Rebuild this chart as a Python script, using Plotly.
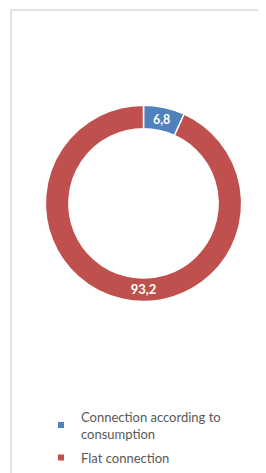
import plotly.graph_objects as go

categories = ["Connection according to consumption", "Flat connection"]
legend_labels = ["Connection according to<br>consumption", "Flat connection"]
values = [6.8, 93.2]
colors = ["#4F81BD", "#C0504D"]

# page has an 8px body margin; figure sized to reach the window's right/bottom edge
OFF = 8
W, H = 266 - OFF, 473 - OFF


def px(x):
    return (x - OFF) / W


def py(y):
    return (H - (y - OFF)) / H


cx, cy, r = 143.5, 209, 101

fig = go.Figure()
fig.add_trace(go.Pie(
    labels=categories,
    values=values,
    marker=dict(colors=colors, line=dict(color="white", width=1.5)),
    hole=0.76,
    sort=False,
    direction="clockwise",
    rotation=0,
    texttemplate="%{value:.1f}",
    textposition="inside",
    insidetextorientation="horizontal",
    textfont=dict(family="Lato", size=13, color="white", weight="bold"),
    showlegend=False,
    hoverinfo="label+value",
    domain=dict(x=[px(cx - r), px(cx + r)],
                y=[py(cy + r), py(cy - r)]),
))

for i, (lab, col) in enumerate(zip(legend_labels, colors)):
    fig.add_trace(go.Scatter(
        x=[None], y=[None], mode="markers", name=lab,
        marker=dict(symbol="square", size=6, color=col),
        legendgroup=f"g{i}", showlegend=True,
    ))

fig.update_layout(
    width=W, height=H,
    margin=dict(l=0, r=0, t=0, b=0),
    paper_bgcolor="white",
    plot_bgcolor="white",
    separators=",.",
    xaxis=dict(visible=False),
    yaxis=dict(visible=False),
    showlegend=True,
    legend=dict(
        x=px(41), y=py(413), xanchor="left", yanchor="top",
        font=dict(family="Lato", size=13, color="#595959"),
        itemwidth=30, tracegroupgap=4,
        bgcolor="rgba(0,0,0,0)",
    ),
    shapes=[dict(type="rect", xref="paper", yref="paper",
                 x0=px(11), x1=1.2, y0=-0.2, y1=py(10),
                 line=dict(color="#D9D9D9", width=1.5), layer="below")],
)

fig.write_html("out.html")
